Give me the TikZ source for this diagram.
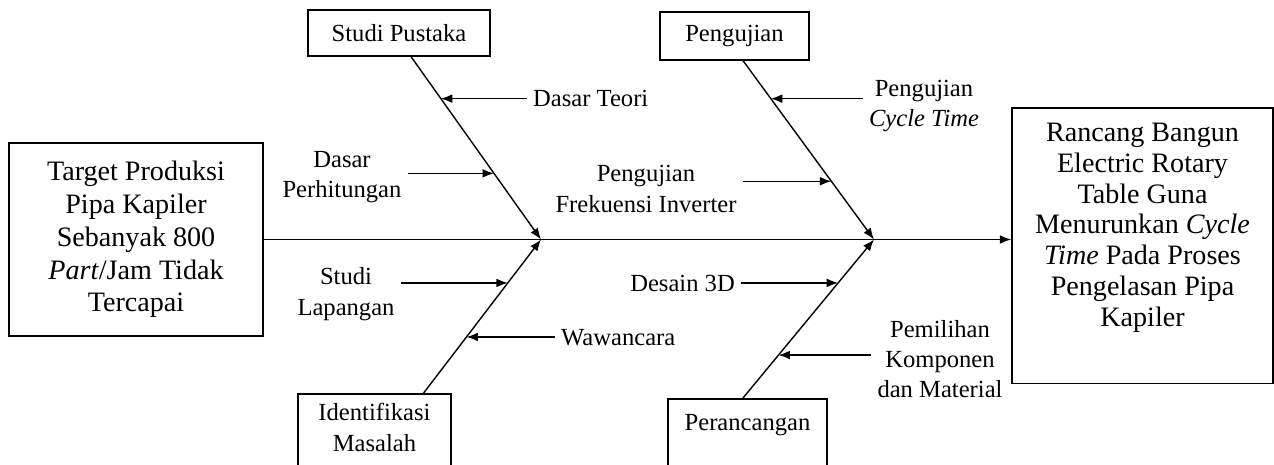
\documentclass[tikz,border=0pt]{standalone}
\usepackage{fontspec}
\setmainfont{Liberation Serif}
\usetikzlibrary{arrows.meta, calc}

\begin{document}
\begin{tikzpicture}[>={Latex[length=6.5pt, width=5pt]}, x=0.02cm, y=-0.02cm,
  box/.style={draw, line width=0.9pt, align=center, inner sep=2pt},
  bigtext/.style={font=\fontsize{16}{18.7}\selectfont},
  smalltext/.style={font=\fontsize{14}{17.3}\selectfont},
  bone/.style={->, line width=0.8pt},
  twig/.style={->, line width=0.8pt}]
  \useasboundingbox (0,0) rectangle (1274,465);
  % Problem and goal
  \node[box, bigtext, minimum width=5.08cm, minimum height=3.86cm] (target) at (136,239.5)
    {Target Produksi\\Pipa Kapiler\\Sebanyak 800\\\textit{Part}/Jam Tidak\\Tercapai};
  \node[box, font=\fontsize{16}{17.5}\selectfont, anchor=north, minimum width=5.22cm,
    text height=122.3pt, text depth=30.7pt] (hasil) at (1142.5,107)
    {Rancang Bangun\\Electric Rotary\\Table Guna\\Menurunkan \textit{Cycle}\\\textit{Time} Pada Proses\\Pengelasan Pipa\\Kapiler};
  % Spine
  \draw[bone] (target.east) -- (target.east -| hasil.west);
  \coordinate (j1) at (541,239.5);
  \coordinate (j2) at (874,239.5);
  % Category boxes
  \node[box, smalltext, minimum width=3.64cm, minimum height=0.92cm] (pustaka) at (399,33) {Studi Pustaka};
  \node[box, smalltext, minimum width=2.98cm, minimum height=0.96cm] (pengujian) at (734.5,36) {Pengujian};
  \node[box, smalltext, anchor=north, minimum width=3.06cm, text height=30.6pt, text depth=22pt] (identifikasi)
    at (374.5,393) {Identifikasi\\Masalah};
  \node[box, smalltext, anchor=north, minimum width=3.18cm, text height=16pt, text depth=30pt] (perancangan)
    at (747.5,398) {Perancangan};
  % Bones
  \draw[bone] ($(pustaka.south west)!0.566!(pustaka.south east)$) -- (j1)
    coordinate[pos=0.229] (t1) coordinate[pos=0.638] (t2);
  \draw[bone] ($(identifikasi.north west)!0.818!(identifikasi.north east)$) -- (j1)
    coordinate[pos=0.717] (t3) coordinate[pos=0.365] (t4);
  \draw[bone] ($(pengujian.south west)!0.557!(pengujian.south east)$) -- (j2)
    coordinate[pos=0.212] (t5) coordinate[pos=0.674] (t6);
  \draw[bone] ($(perancangan.north west)!0.472!(perancangan.north east)$) -- (j2)
    coordinate[pos=0.726] (t7) coordinate[pos=0.271] (t8);
  % Causes
  \node[smalltext, anchor=west] (teori) at (527,98) {Dasar Teori};
  \node[smalltext, align=center] (hitung) at (342,177) {Dasar\\Perhitungan};
  \node[smalltext, align=center] (lapangan) at (346,294) {Studi\\Lapangan};
  \node[smalltext, anchor=west] (wawancara) at (555,338) {Wawancara};
  \node[smalltext, align=center] (cycle) at (924,106) {Pengujian\\\textit{Cycle Time}};
  \node[smalltext, align=center] (frekuensi) at (646,189) {Pengujian\\Frekuensi Inverter};
  \node[smalltext, anchor=east] (desain) at (741,283) {Desain 3D};
  \node[smalltext, align=center] (komponen) at (940,359) {Pemilihan\\Komponen\\dan Material};
  \draw[twig] (teori.west |- t1) -- (t1);
  \draw[twig] (hitung.east |- t2) -- (t2);
  \draw[twig] (lapangan.east |- t3) -- (t3);
  \draw[twig] (wawancara.west |- t4) -- (t4);
  \draw[twig] (cycle.west |- t5) -- (t5);
  \draw[twig] (frekuensi.east |- t6) -- (t6);
  \draw[twig] (desain.east |- t7) -- (t7);
  \draw[twig] (komponen.west |- t8) -- (t8);
\end{tikzpicture}
\end{document}
